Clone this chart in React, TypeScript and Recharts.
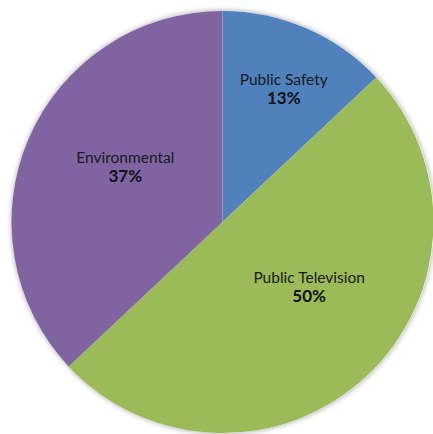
import React from "react";
import { PieChart, Pie, Cell } from "recharts";

const categories = ["Public Safety", "Public Television", "Environmental"];
const shares = [13, 50, 37];
const colors = ["#4F81BD", "#9BBB59", "#8064A2"];
const labelNudges = [
  [11, -18],
  [0, -28],
  [19, -6],
];

const data = categories.map((name, i) => ({ name, value: shares[i] }));

const RADIAN = Math.PI / 180;
const CX = 222.5;
const CY = 222;
const R = 211;

const renderLabel = (props: any) => {
  const { cx, cy, midAngle, outerRadius, index, name, value } = props;
  const r = outerRadius * 0.6;
  const x = cx + r * Math.cos(-midAngle * RADIAN) + labelNudges[index][0];
  const y = cy + r * Math.sin(-midAngle * RADIAN) + labelNudges[index][1];
  return (
    <g>
      <text
        x={x}
        y={y - 9}
        textAnchor="middle"
        dominantBaseline="central"
        fill="#1a1a1a"
        style={{ fontFamily: "Lato", fontSize: 15.5 }}
      >
        {name}
      </text>
      <text
        x={x}
        y={y + 9.5}
        textAnchor="middle"
        dominantBaseline="central"
        fill="#111"
        style={{ fontFamily: "Lato", fontSize: 17, fontWeight: 700 }}
      >
        {`${value}%`}
      </text>
    </g>
  );
};

export default function App() {
  return (
    <div
      style={{
        position: "absolute",
        left: 0,
        top: 0,
        width: 433,
        height: 434,
        background: "#fff",
        overflow: "hidden",
      }}
    >
      <div
        style={{
          position: "absolute",
          left: CX - R,
          top: CY - R,
          width: 2 * R,
          height: 2 * R,
          borderRadius: "50%",
          boxShadow: "0 0 5px 1px rgba(0,0,0,0.28)",
        }}
      />
      <div style={{ position: "absolute", left: 0, top: 0 }}>
        <PieChart width={433} height={434} margin={{ top: 0, right: 0, bottom: 0, left: 0 }}>
          <Pie
            data={data}
            dataKey="value"
            nameKey="name"
            cx={CX}
            cy={CY}
            outerRadius={R}
            startAngle={90}
            endAngle={-270}
            stroke="none"
            labelLine={false}
            label={renderLabel}
            isAnimationActive={false}
          >
            {data.map((d, i) => (
              <Cell key={d.name} fill={colors[i]} />
            ))}
          </Pie>
        </PieChart>
      </div>
    </div>
  );
}
